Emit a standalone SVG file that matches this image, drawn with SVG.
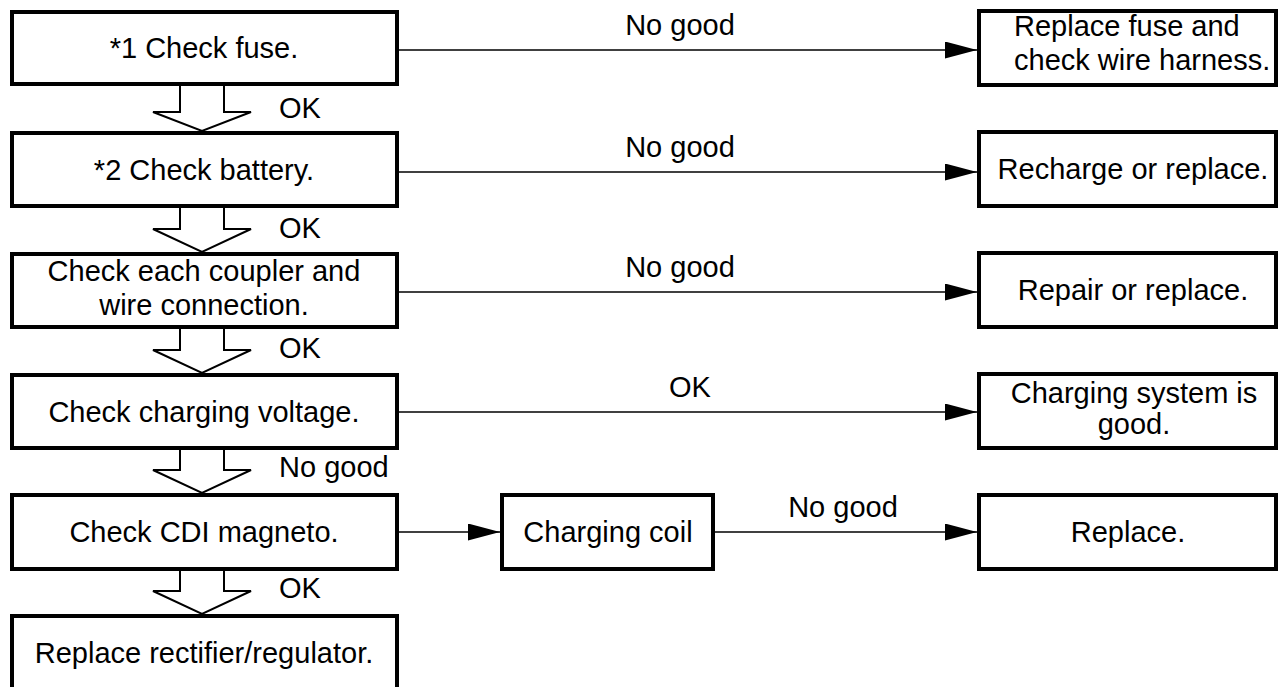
<svg xmlns="http://www.w3.org/2000/svg" width="1280" height="687" viewBox="0 0 1280 687">
<defs>
<style>
.box{fill:#fff;stroke:#000;stroke-width:4}
.t{font-family:"Liberation Sans",Arial,sans-serif;font-size:29px;fill:#000}
.c{text-anchor:middle}
.conn{stroke:#000;stroke-width:1.6;fill:none}
.down{fill:#fff;stroke:#000;stroke-width:2;stroke-linejoin:miter}
</style>
<marker id="ah" markerUnits="userSpaceOnUse" markerWidth="34" markerHeight="18" refX="32" refY="8.5" orient="auto">
<path d="M0,0 L32,8.5 L0,17 z" fill="#000"/>
</marker>
</defs>
<rect width="1280" height="687" fill="#fff"/>

<g id="connectors">
<line class="conn" x1="399" y1="50" x2="977" y2="50" marker-end="url(#ah)"/>
<line class="conn" x1="399" y1="172" x2="977" y2="172" marker-end="url(#ah)"/>
<line class="conn" x1="399" y1="292" x2="977" y2="292" marker-end="url(#ah)"/>
<line class="conn" x1="399" y1="412" x2="977" y2="412" marker-end="url(#ah)"/>
<line class="conn" x1="399" y1="532" x2="500" y2="532" marker-end="url(#ah)"/>
<line class="conn" x1="715" y1="532" x2="977" y2="532" marker-end="url(#ah)"/>
<path class="down" d="M180,86 V112 H153 L202,131 L251,112 H224 V86"/>
<path class="down" d="M180,208 V229 H153 L202,252 L251,229 H224 V208"/>
<path class="down" d="M180,329 V350 H153 L202,373 L251,350 H224 V329"/>
<path class="down" d="M180,450 V470 H153 L202,493 L251,470 H224 V450"/>
<path class="down" d="M180,571 V591 H153 L202,614 L251,591 H224 V571"/>
<text class="t c" x="680" y="35">No good</text>
<text class="t c" x="680" y="157">No good</text>
<text class="t c" x="680" y="277">No good</text>
<text class="t c" x="690" y="397">OK</text>
<text class="t c" x="843" y="517">No good</text>
<text class="t" x="279" y="118">OK</text>
<text class="t" x="279" y="238">OK</text>
<text class="t" x="279" y="358">OK</text>
<text class="t" x="279" y="477">No good</text>
<text class="t" x="279" y="598">OK</text>
</g>

<g id="n1"><rect class="box" x="12" y="12" width="385" height="72"/><text class="t c" x="204" y="58">*1 Check fuse.</text></g>
<g id="n2"><rect class="box" x="12" y="133" width="385" height="73"/><text class="t c" x="204" y="180">*2 Check battery.</text></g>
<g id="n3"><rect class="box" x="12" y="254" width="385" height="73"/><text class="t c" x="204" y="281">Check each coupler and</text><text class="t c" x="204" y="315">wire connection.</text></g>
<g id="n4"><rect class="box" x="12" y="375" width="385" height="73"/><text class="t c" x="204" y="422">Check charging voltage.</text></g>
<g id="n5"><rect class="box" x="12" y="495" width="385" height="74"/><text class="t c" x="204" y="542">Check CDI magneto.</text></g>
<g id="n6"><rect class="box" x="12" y="616" width="385" height="90"/><text class="t c" x="204" y="663">Replace rectifier/regulator.</text></g>

<g id="r1"><rect class="box" x="979" y="11" width="297" height="74"/><text class="t" x="1014" y="36">Replace fuse and</text><text class="t" x="1014" y="70">check wire harness.</text></g>
<g id="r2"><rect class="box" x="979" y="132" width="297" height="74"/><text class="t c" x="1133" y="179">Recharge or replace.</text></g>
<g id="r3"><rect class="box" x="979" y="253" width="297" height="74"/><text class="t c" x="1133" y="300">Repair or replace.</text></g>
<g id="r4"><rect class="box" x="979" y="374" width="297" height="74"/><text class="t c" x="1134" y="403">Charging system is</text><text class="t c" x="1134" y="434">good.</text></g>
<g id="coil"><rect class="box" x="502" y="495" width="211" height="74"/><text class="t c" x="608" y="542">Charging coil</text></g>
<g id="r5"><rect class="box" x="979" y="495" width="297" height="74"/><text class="t c" x="1128" y="542">Replace.</text></g>
</svg>
